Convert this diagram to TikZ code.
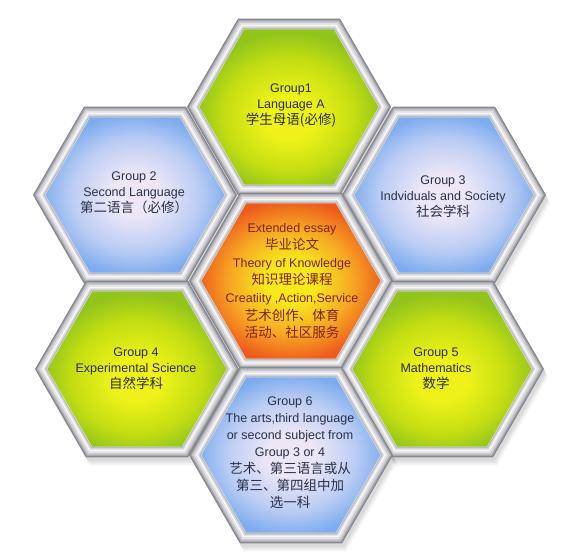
\documentclass[tikz,border=0pt]{standalone}
\usepackage{fontspec}
\setmainfont{Liberation Sans}
\newfontfamily\cjkf{Noto Sans CJK SC}
\newcommand\zh[1]{{\cjkf\fontsize{13.5}{16.5}\selectfont #1}}
\definecolor{gA}{HTML}{EEF21A}
\definecolor{gB}{HTML}{C4DE12}
\definecolor{gC}{HTML}{92C41C}
\definecolor{bA}{HTML}{ECE6F7}
\definecolor{bB}{HTML}{BACCF4}
\definecolor{bC}{HTML}{7CACEE}
\definecolor{oA}{HTML}{F8E81C}
\definecolor{oB}{HTML}{F6A824}
\definecolor{oC}{HTML}{EE5A1C}
\definecolor{fr1}{HTML}{85858C}
\definecolor{fr2}{HTML}{A9A9B0}
\definecolor{fr3}{HTML}{C9C9CE}
\definecolor{fr4}{HTML}{E2E2E6}
\definecolor{fr5}{HTML}{F6F6F8}
\definecolor{fr6}{HTML}{DADADE}
\definecolor{fr7}{HTML}{B8B8BD}
\definecolor{gtext}{HTML}{2E2E22}
\definecolor{btext}{HTML}{283048}
\definecolor{otext}{HTML}{7E2410}
\pgfdeclareradialshading{hexgreen}{\pgfpoint{0bp}{-4bp}}{color(0bp)=(gA); color(7bp)=(gA); color(18bp)=(gB); color(26bp)=(gC); color(50bp)=(gC)}
\pgfdeclareradialshading{hexblue}{\pgfpoint{0bp}{0bp}}{color(0bp)=(bA); color(7bp)=(bA); color(18bp)=(bB); color(26bp)=(bC); color(50bp)=(bC)}
\pgfdeclareradialshading{hexorange}{\pgfpoint{0bp}{0bp}}{color(0bp)=(oA); color(7bp)=(oA); color(17bp)=(oB); color(26bp)=(oC); color(50bp)=(oC)}
\newcommand\hexpath[3]{([shift={(#1,#2)}]0:#3) -- ++(120:#3) -- ++(180:#3) -- ++(240:#3) -- ++(300:#3) -- ++(0:#3) -- cycle}
\newcommand\hexcell[3]{%
  \foreach \rr/\cc in {102/fr1,100.5/fr2,99/fr3,97/fr4,95/fr5,93/fr6,91.5/fr7}{\fill[\cc] \hexpath{#1}{#2}{\rr};}
  \shade[shading=#3, draw=white!75!gray, line width=0.5pt] \hexpath{#1}{#2}{90};
}
\tikzset{
  txt/.style={align=center, inner sep=0pt, font=\fontsize{12.5}{16}\selectfont},
  gtxt/.style={txt, text=gtext},
  btxt/.style={txt, text=btext},
  otxt/.style={txt, text=otext, font=\fontsize{12.5}{17.6}\selectfont},
}
\begin{document}
\begin{tikzpicture}[x=1pt,y=-1pt]
\useasboundingbox[fill=white] (0,0) rectangle (585,559);
% soft shadow
\foreach \dx/\dy/\op in {2/4/0.06,3/6/0.05,4/8/0.04}{
  \begin{scope}[shift={(\dx,\dy)}]
    \foreach \cx/\cy in {289/107,135/195,444/195,291/281,137/369,442/369,291/455}{
      \fill[black, opacity=\op] \hexpath{\cx}{\cy}{102};}
  \end{scope}}
\hexcell{289}{107}{hexgreen}
\hexcell{135}{195}{hexblue}
\hexcell{444}{195}{hexblue}
\hexcell{291}{281}{hexorange}
\hexcell{137}{369}{hexgreen}
\hexcell{442}{369}{hexgreen}
\hexcell{291}{455}{hexblue}
\node[gtxt] (g1) at (291,105) {Group1\\Language A\\\zh{学生母语(必修)}};
\node[btxt] (g2) at (134,193) {Group 2\\Second Language\\\zh{第二语言（必修）}};
\node[btxt] (g3) at (443,197) {Group 3\\Indviduals and Society\\\zh{社会学科}};
\node[otxt] (core) at (292,281) {Extended essay\\\zh{毕业论文}\\Theory of Knowledge\\\zh{知识理论课程}\\Creatiity ,Action,Service\\\zh{艺术创作、体育}\\\zh{活动、社区服务}};
\node[gtxt] (g4) at (136,369) {Group 4\\Experimental Science\\\zh{自然学科}};
\node[gtxt] (g5) at (436,369) {Group 5\\Mathematics\\\zh{数学}};
\node[btxt, font=\fontsize{12.5}{17}\selectfont] (g6) at (290,453) {Group 6\\The arts,third language\\or second subject from\\Group 3 or 4\\\zh{艺术、第三语言或从}\\\zh{第三、第四组中加}\\\zh{选一科}};
\end{tikzpicture}
\end{document}
